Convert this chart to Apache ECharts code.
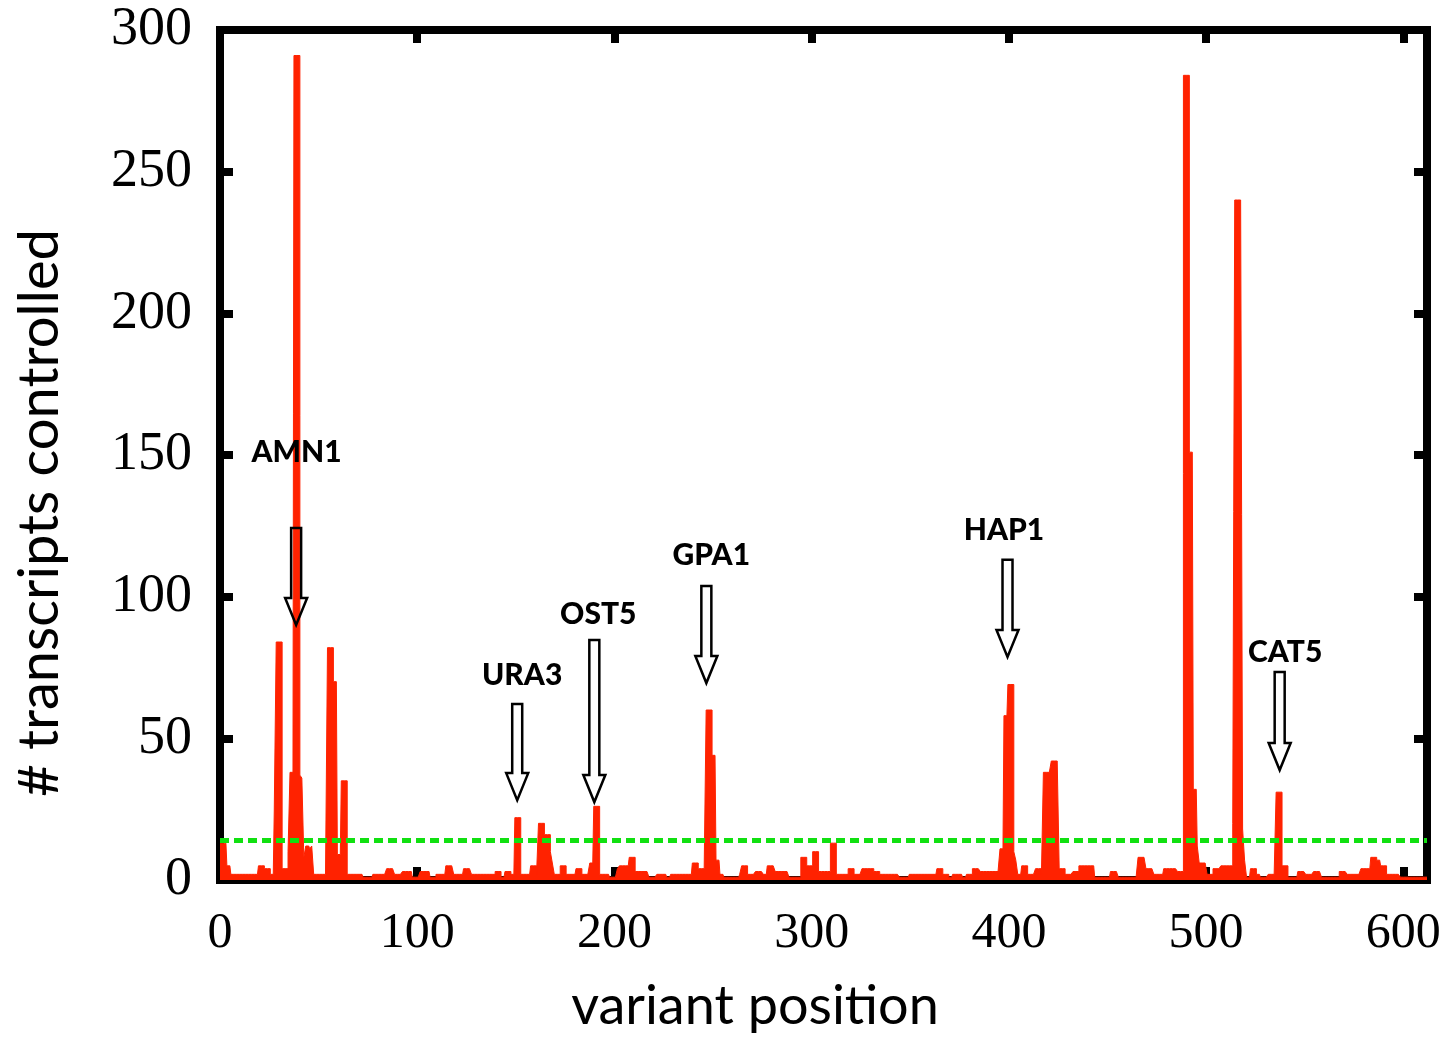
<!DOCTYPE html>
<html>
<head>
<meta charset="utf-8">
<title>transcripts controlled per variant</title>
<script src="https://cdn.jsdelivr.net/npm/echarts@6/dist/echarts.min.js"></script>
<style>
  html, body { margin: 0; padding: 0; background: #fff; }
  #chart { width: 1448px; height: 1037px; }
</style>
</head>
<body>
<div id="chart"></div>
<script>
// # transcripts controlled, one value per variant position (0..612)
const counts = [
  // 0-19
  13,13,13,13,5,5,2,2,2,2, 2,2,2,2,2,2,2,2,2,2,
  // 20-39
  5,5,5,4,4,4,2,2,24,84, 84,84,4,4,4,10,38,38,291,291,
  // 40-59
  291,37,36,8,12,12,11,12,2,2, 2,2,2,2,2,82,82,82,70,70,
  // 60-79
  9,9,35,35,35,2,2,2,2,2, 2,2,2,1,1,1,1,1,2,2,
  // 80-99
  2,2,2,2,2,4,4,4,4,2, 2,2,2,3,3,3,3,3,1,1,
  // 100-119
  1,1,3,3,3,3,3,1,1,1, 2,2,2,2,2,5,5,5,5,2,
  // 120-139
  2,2,2,2,4,4,4,4,2,2, 2,2,2,2,2,2,2,2,2,2,
  // 140-159
  3,3,3,1,1,3,3,3,2,2, 22,22,22,2,2,2,2,2,5,5,
  // 160-179
  5,2,20,20,20,16,16,16,10,6, 2,2,2,5,5,5,2,2,2,2,
  // 180-199
  2,4,4,4,2,2,2,2,6,6, 26,26,26,2,2,2,2,2,1,1,
  // 200-219
  1,1,4,5,5,5,5,5,8,8, 8,3,3,3,3,3,3,3,1,1,
  // 220-239
  1,1,2,2,2,2,2,1,1,2, 2,2,2,2,2,2,2,2,2,2,
  // 240-259
  6,6,6,4,4,4,4,60,60,60, 44,44,7,7,2,2,1,1,1,1,
  // 260-279
  1,1,1,1,2,5,5,5,2,2, 2,2,3,3,3,3,2,2,5,5,
  // 280-299
  5,5,3,3,3,3,3,3,3,1, 1,1,1,1,1,8,8,8,5,5,
  // 300-319
  5,10,10,10,3,3,3,3,3,3, 13,13,13,2,2,2,2,2,2,4,
  // 320-339
  4,4,2,2,2,2,4,4,4,4, 4,4,3,3,3,2,2,2,2,2,
  // 340-359
  2,2,2,2,2,1,1,1,1,1, 2,2,2,2,2,2,2,2,2,2,
  // 360-379
  2,2,2,2,4,4,4,2,2,2, 1,1,2,2,2,2,2,1,1,2,
  // 380-399
  2,2,4,4,4,4,3,3,3,3, 3,3,3,3,3,3,11,11,58,58,
  // 400-419
  69,69,69,10,7,2,2,5,5,5, 2,2,2,2,4,4,4,2,38,38,
  // 420-439
  38,38,42,42,42,42,4,4,4,2, 2,2,2,3,3,3,5,5,5,5,
  // 440-459
  5,5,5,5,1,1,1,1,1,1, 1,1,3,3,3,3,1,1,1,1,
  // 460-479
  1,1,1,1,1,1,8,8,8,8, 4,4,4,4,2,2,2,2,2,4,
  // 480-499
  4,4,4,4,4,4,3,3,3,284, 284,284,151,151,32,32,12,6,6,6,
  // 500-519
  6,2,2,2,4,4,4,4,5,5, 5,5,5,5,20,240,240,240,240,18,
  // 520-539
  7,1,1,4,4,4,2,2,1,1, 1,1,2,2,2,2,31,31,31,5,
  // 540-559
  5,5,1,1,1,1,1,3,3,3, 3,2,2,2,2,3,3,3,3,1,
  // 560-579
  1,1,1,1,1,1,1,1,3,3, 3,3,2,2,2,2,2,2,2,4,
  // 580-599
  4,4,4,4,8,8,8,7,7,5, 5,5,2,2,2,2,2,2,2,1,
  // 600-612
  1,1,1,1,1,1,1,1,1,1, 1,1,1
];

// significance threshold (green dashed line)
const threshold = 14;

// annotated genes: arrow x, arrow top, arrow tip, label x, label y (data units)
const genes  = ["AMN1", "URA3", "OST5", "GPA1", "HAP1", "CAT5"];
const arrowX = [38.6, 150.7, 189.8, 246.6, 399.3, 537.3];
const arrowTop = [124.2, 62.1, 84.7, 103.8, 113.0, 73.4];
const arrowTip = [90.0, 28.2, 27.5, 69.5, 78.7, 38.8];
const labelX = [38.8, 153.2, 191.8, 249.1, 397.5, 540.1];
const labelY = [151.1, 72.4, 93.9, 114.7, 123.5, 80.5];

const xTicks = [0, 100, 200, 300, 400, 500, 600];
const xMax = 612;
const yMax = 300;

const myChart = echarts.init(document.getElementById("chart"));

const stepData = counts.map((v, i) => [i, v]);
const arrowData = genes.map((g, i) => [arrowX[i], arrowTop[i], arrowTip[i], labelX[i], labelY[i]]);

const borderLine = { show: true, onZero: false, lineStyle: { color: "#000", width: 8, cap: "square" } };
const tickStyle = { show: true, inside: true, length: 13, lineStyle: { color: "#000", width: 8 } };

const option = {
  animation: false,
  backgroundColor: "#fff",
  grid: { left: 220, right: 21, top: 30, bottom: 157, outerBoundsMode: "none" },
  xAxis: [
    {
      type: "value",
      position: "bottom",
      min: 0,
      max: xMax,
      interval: 100,
      axisLine: borderLine,
      axisTick: tickStyle,
      splitLine: { show: false },
      axisLabel: {
        margin: 29,
        color: "#000",
        fontFamily: "Liberation Serif",
        fontSize: 50,
        formatter: (v) => (xTicks.indexOf(v) >= 0 ? String(v) : ""),
      },
    },
    {
      type: "value",
      position: "top",
      min: 0,
      max: xMax,
      interval: 100,
      axisLine: borderLine,
      axisTick: tickStyle,
      axisLabel: { show: false },
      splitLine: { show: false },
    },
  ],
  yAxis: [
    {
      type: "value",
      position: "left",
      min: 0,
      max: yMax,
      interval: 50,
      axisLine: borderLine,
      axisTick: tickStyle,
      splitLine: { show: false },
      axisLabel: {
        margin: 28,
        color: "#000",
        fontFamily: "Liberation Serif",
        fontSize: 54,
      },
    },
    {
      type: "value",
      position: "right",
      min: 0,
      max: yMax,
      interval: 50,
      axisLine: borderLine,
      axisTick: tickStyle,
      axisLabel: { show: false },
      splitLine: { show: false },
    },
  ],
  series: [
    {
      type: "line",
      step: "middle",
      data: stepData,
      symbol: "none",
      z: 2,
      lineStyle: { color: "#ff2200", width: 1 },
      areaStyle: { color: "#ff2200", opacity: 1 },
      markLine: {
        silent: true,
        symbol: "none",
        label: { show: false },
        lineStyle: { color: "#11e011", width: 5, type: [9, 5] },
        data: [{ yAxis: threshold }],
      },
    },
    {
      // hollow arrows + gene names
      type: "custom",
      z: 5,
      data: arrowData,
      renderItem: function (params, api) {
        const top = api.coord([api.value(0), api.value(1)]);
        const tip = api.coord([api.value(0), api.value(2)]);
        const lab = api.coord([api.value(3), api.value(4)]);
        const cx = top[0];
        const sw = 5, hw = 11, hl = 27;
        return {
          type: "group",
          children: [
            {
              type: "polygon",
              shape: {
                points: [
                  [cx - sw, top[1]], [cx + sw, top[1]], [cx + sw, tip[1] - hl],
                  [cx + hw, tip[1] - hl], [cx, tip[1]], [cx - hw, tip[1] - hl],
                  [cx - sw, tip[1] - hl],
                ],
              },
              style: { fill: "none", stroke: "#000", lineWidth: 2.5 },
            },
            {
              type: "text",
              x: lab[0],
              y: lab[1],
              style: {
                text: genes[params.dataIndex],
                font: "900 30px Lato",
                fill: "#000",
                textAlign: "center",
                textVerticalAlign: "middle",
                align: "center",
                verticalAlign: "middle",
              },
            },
          ],
        };
      },
    },
  ],
  graphic: [
    {
      type: "text",
      x: 755,
      y: 1007,
      style: {
        text: "variant position",
        font: "54px Lato",
        fill: "#000",
        textAlign: "center",
        textVerticalAlign: "middle",
        align: "center",
        verticalAlign: "middle",
      },
    },
    {
      type: "text",
      x: 40,
      y: 513,
      rotation: Math.PI / 2,
      style: {
        text: "# transcripts controlled",
        font: "56px Lato",
        fill: "#000",
        textAlign: "center",
        textVerticalAlign: "middle",
        align: "center",
        verticalAlign: "middle",
      },
    },
  ],
};

myChart.setOption(option);
</script>
</body>
</html>
